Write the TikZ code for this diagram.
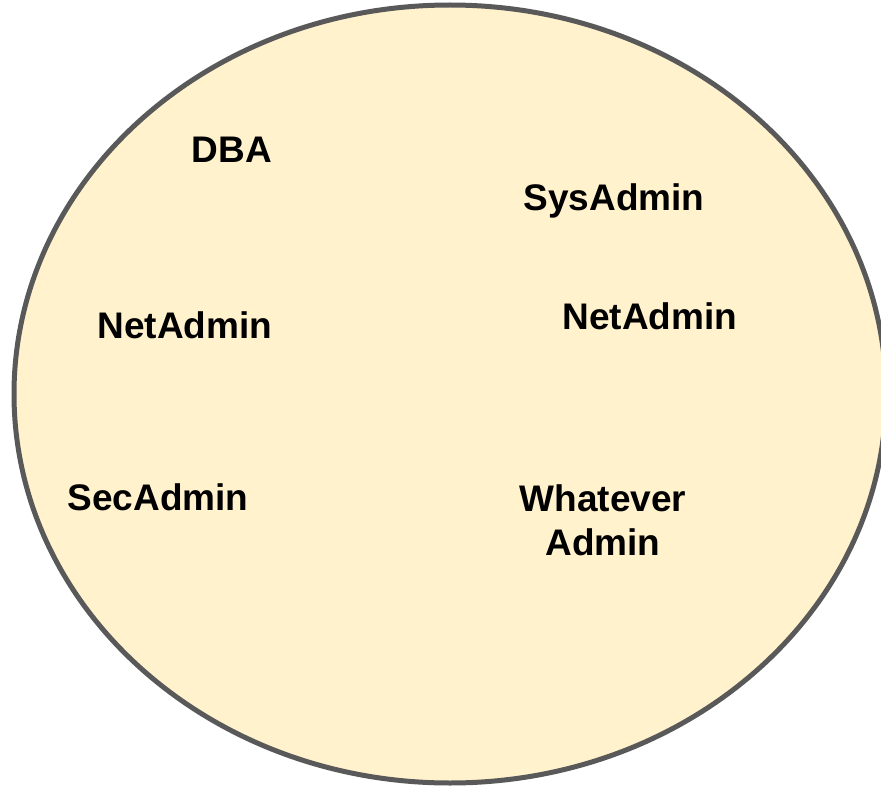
\documentclass[tikz,border=0pt]{standalone}
\usepackage{fontspec}
\setmainfont{Liberation Sans}
\usetikzlibrary{positioning}

\definecolor{paleyellow}{HTML}{FFF2CC}
\definecolor{rimgray}{HTML}{595959}

\tikzset{
  role/.style={font=\bfseries\fontsize{37}{44}\selectfont, text=black, align=center, inner sep=0pt, anchor=base}
}

\begin{document}
\begin{tikzpicture}[x=1pt, y=-1pt, line cap=round, line join=round]

\useasboundingbox (0,0) rectangle (881,789);
\clip (0,0) rectangle (881,789);

\draw[fill=paleyellow, draw=rimgray, line width=5pt] (450,394) ellipse [x radius=436, y radius=389];

\node[role] (dba) at (232,163) {DBA};
\node[role] (sysadmin) at (614,211) {SysAdmin};
\node[role] (netleft) at (185,338) {NetAdmin};
\node[role] (netright) at (650,329) {NetAdmin};
\node[role] (secadmin) at (158,510) {SecAdmin};
\node[role] (whatever) at (603,555) {Whatever\\Admin};

\end{tikzpicture}
\end{document}
